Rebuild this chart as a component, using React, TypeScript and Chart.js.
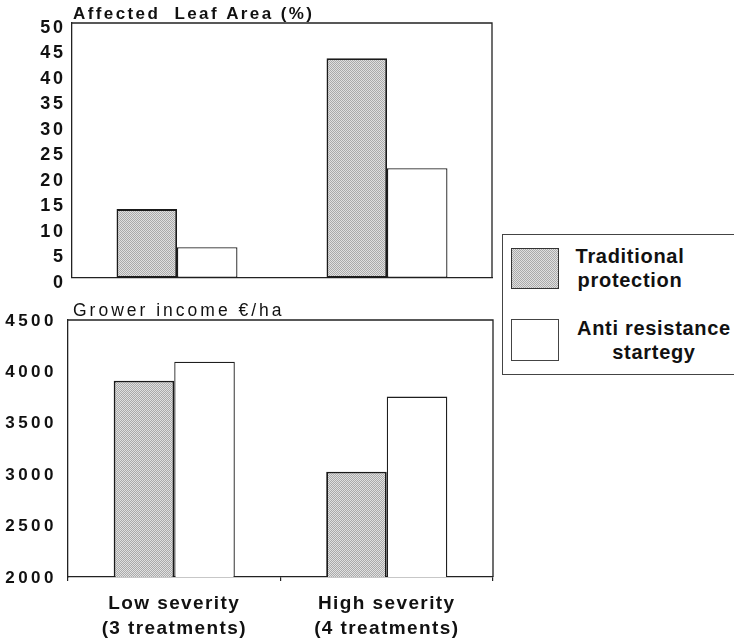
import React, { useEffect, useRef } from "react";
import { Chart, registerables } from "chart.js";

Chart.register(...registerables);

// ---------- data ----------
const categories = [
  ["Low severity", "(3 treatments)"],
  ["High severity", "(4 treatments)"],
];
const seriesNames = ["Traditional protection", "Anti resistance startegy"];
const legendLines = [
  ["Traditional", "protection"],
  ["Anti resistance", "startegy"],
];
const leafTitle = "Affected  Leaf Area (%)";
const incomeTitle = "Grower income €/ha";
const leafTraditional = [13.5, 43.1];
const leafAnti = [6.0, 21.5];
const incomeTraditional = [3910, 3025];
const incomeAnti = [4095, 3755];
const leafAxis = [0, 50, 5]; // min, max, step
const incomeAxis = [2000, 4500, 500];

const FONT = "'Liberation Sans', Arial, Helvetica, sans-serif";
const INK = "#111";
const LINE = "#222";

function makePattern(): CanvasPattern | string {
  const c = document.createElement("canvas");
  c.width = 2;
  c.height = 2;
  const g = c.getContext("2d");
  if (!g) return "#c0c0c0";
  g.fillStyle = "#e0e0e0";
  g.fillRect(0, 0, 2, 2);
  g.fillStyle = "#aaaaaa";
  g.fillRect(0, 0, 1, 1);
  g.fillRect(1, 1, 1, 1);
  const p = g.createPattern(c, "repeat");
  return p || "#c0c0c0";
}

const spacingPlugin = {
  id: "labelSpacing",
  beforeDraw(chart: any, _a: any, opts: any) {
    const map = (opts && opts.scales) || {};
    Object.keys(map).forEach((id) => {
      const s: any = chart.scales[id];
      if (!s || s.__spacingPatched) return;
      const orig = s.drawLabels;
      s.drawLabels = function (ca: any) {
        const ctx = this.ctx;
        ctx.save();
        ctx.letterSpacing = map[id];
        orig.call(this, ca);
        ctx.restore();
      };
      s.__spacingPatched = true;
    });
  },
};

const panelPlugin = {
  id: "panelDecor",
  afterDraw(chart: any, _a: any, opts: any) {
    const { ctx, chartArea } = chart;
    ctx.save();
    ctx.strokeStyle = LINE;
    ctx.lineWidth = 1.3;
    ctx.beginPath();
    ctx.moveTo(chartArea.left, chartArea.top);
    ctx.lineTo(chartArea.right, chartArea.top);
    ctx.lineTo(chartArea.right, chartArea.bottom);
    ctx.stroke();
    ctx.letterSpacing = opts.spacing;
    ctx.font = opts.font;
    ctx.fillStyle = INK;
    ctx.textAlign = "left";
    ctx.textBaseline = "alphabetic";
    ctx.fillText(opts.text, chartArea.left + opts.dx, opts.y);
    ctx.restore();
  },
};

function barDatasets(a: number[], b: number[], pattern: any, pct: number) {
  return [
    {
      label: seriesNames[0],
      data: a,
      backgroundColor: pattern,
      borderColor: "#1a1a1a",
      borderWidth: 1.8,
      borderSkipped: false,
      categoryPercentage: pct,
      barPercentage: 1,
    },
    {
      label: seriesNames[1],
      data: b,
      backgroundColor: "#ffffff",
      borderColor: "#1e1e1e",
      borderWidth: 1.3,
      borderSkipped: false,
      categoryPercentage: pct,
      barPercentage: 1,
    },
  ];
}

const plainTick = (v: any) => String(v);

export default function App() {
  const topRef = useRef<HTMLCanvasElement>(null);
  const botRef = useRef<HTMLCanvasElement>(null);

  useEffect(() => {
    const pattern = makePattern();
    const top = new Chart(topRef.current as HTMLCanvasElement, {
      type: "bar",
      data: {
        labels: categories as any,
        datasets: barDatasets(leafTraditional, leafAnti, pattern, 0.576) as any,
      },
      options: {
        responsive: false,
        animation: false,
        layout: { padding: { top: 23, right: 8, bottom: 13, left: 0 } },
        plugins: {
          legend: { display: false },
          tooltip: { enabled: false },
          labelSpacing: { scales: { y: "2.7px" } },
          panelDecor: { text: leafTitle, font: `bold 17px ${FONT}`, spacing: "2.4px", dx: 1, y: 19 },
        } as any,
        scales: {
          x: {
            grid: { display: false },
            ticks: { display: false },
            border: { display: true, color: LINE, width: 1.3 },
            afterFit: (s: any) => {
              s.height = 0;
            },
          },
          y: {
            min: leafAxis[0],
            max: leafAxis[1],
            ticks: {
              stepSize: leafAxis[2],
              callback: plainTick,
              font: { family: FONT, size: 18, weight: "bold" },
              color: INK,
              padding: 6.3,
              labelOffset: 5,
            },
            grid: { display: false, drawTicks: false },
            border: { display: true, color: LINE, width: 1.3 },
            afterFit: (s: any) => {
              s.width = 72;
            },
          },
        },
      },
      plugins: [spacingPlugin, panelPlugin],
    });

    const bot = new Chart(botRef.current as HTMLCanvasElement, {
      type: "bar",
      data: {
        labels: categories as any,
        datasets: barDatasets(incomeTraditional, incomeAnti, pattern, 0.57) as any,
      },
      options: {
        responsive: false,
        animation: false,
        layout: { padding: { top: 25, right: 7, bottom: 0, left: 0 } },
        plugins: {
          legend: { display: false },
          tooltip: { enabled: false },
          labelSpacing: { scales: { y: "3.5px", x: "1.4px" } },
          panelDecor: { text: incomeTitle, font: `17.5px ${FONT}`, spacing: "3px", dx: 5, y: 21 },
        } as any,
        scales: {
          x: {
            grid: { display: true, drawOnChartArea: false, drawTicks: true, tickLength: 4, color: LINE, lineWidth: 1.2 },
            ticks: {
              font: { family: FONT, size: 19, weight: "bold", lineHeight: 1.3 },
              color: INK,
              padding: 10.5,
              maxRotation: 0,
              autoSkip: false,
            },
            border: { display: true, color: LINE, width: 1.3 },
            afterFit: (s: any) => {
              s.height = 65;
            },
          },
          y: {
            min: incomeAxis[0],
            max: incomeAxis[1],
            ticks: {
              stepSize: incomeAxis[2],
              callback: plainTick,
              font: { family: FONT, size: 17, weight: "bold" },
              color: INK,
              padding: 11,
              labelOffset: 1,
            },
            grid: { display: false, drawTicks: false },
            border: { display: true, color: LINE, width: 1.3 },
            afterFit: (s: any) => {
              s.width = 68;
            },
          },
        },
      },
      plugins: [spacingPlugin, panelPlugin],
    });

    return () => {
      top.destroy();
      bot.destroy();
    };
  }, []);

  const swatchPattern: React.CSSProperties = {
    backgroundImage: "repeating-conic-gradient(#aaaaaa 0% 25%, #e0e0e0 0% 50%)",
    backgroundSize: "2px 2px",
  };
  const textStyle: React.CSSProperties = {
    position: "absolute",
    fontFamily: FONT,
    fontWeight: "bold",
    fontSize: "20px",
    letterSpacing: "0.7px",
    color: INK,
    textAlign: "center",
    whiteSpace: "nowrap",
  };

  return (
    <div
      style={{
        position: "absolute",
        left: 0,
        top: 0,
        width: 734,
        height: 642,
        background: "#fff",
        overflow: "hidden",
      }}
    >
      <canvas ref={topRef} width={500} height={295} style={{ position: "absolute", left: 0, top: 0 }} />
      <canvas ref={botRef} width={500} height={347} style={{ position: "absolute", left: 0, top: 295 }} />
      <div
        style={{
          position: "absolute",
          left: 502,
          top: 234,
          width: 250,
          height: 141,
          border: "1.3px solid #444",
          boxSizing: "border-box",
        }}
      />
      <div
        style={{
          position: "absolute",
          left: 511,
          top: 248,
          width: 48,
          height: 41,
          border: "1.6px solid #333",
          boxSizing: "border-box",
          ...swatchPattern,
        }}
      />
      <div
        style={{
          position: "absolute",
          left: 511,
          top: 319,
          width: 48,
          height: 42,
          border: "1.2px solid #444",
          boxSizing: "border-box",
          background: "#fff",
        }}
      />
      <div style={{ ...textStyle, left: 570, top: 245, width: 120, lineHeight: "23.5px" }}>
        {legendLines[0][0]}
        <br />
        {legendLines[0][1]}
      </div>
      <div style={{ ...textStyle, left: 574, top: 316, width: 160, lineHeight: "24px" }}>
        {legendLines[1][0]}
        <br />
        {legendLines[1][1]}
      </div>
    </div>
  );
}
